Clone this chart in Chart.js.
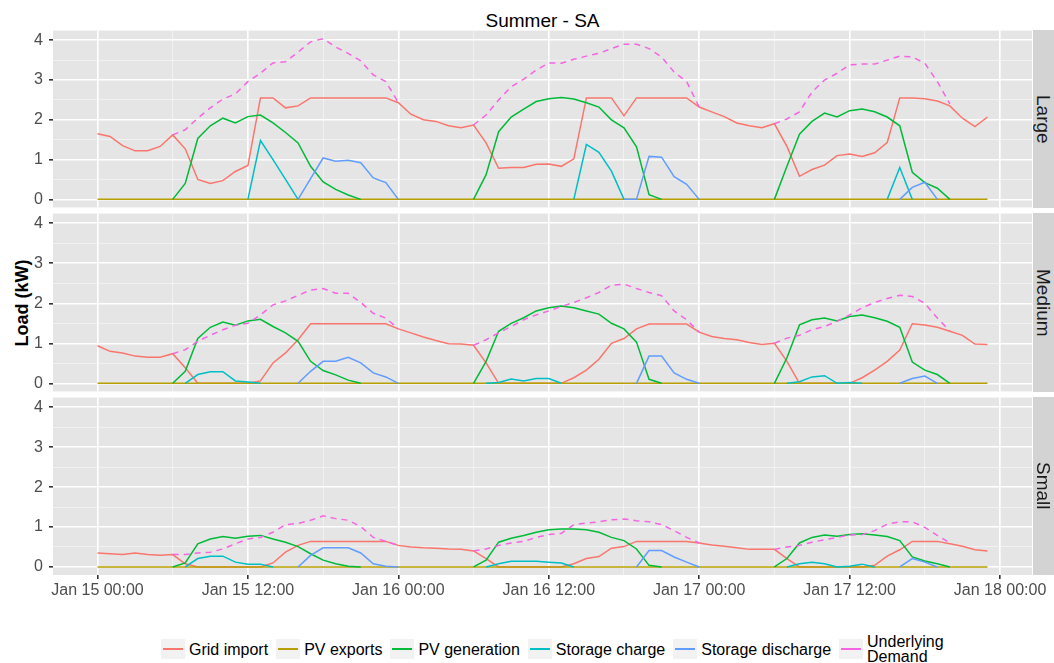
<!DOCTYPE html>
<html>
<head>
<meta charset="utf-8">
<script src="https://cdn.jsdelivr.net/npm/chart.js@4.4.1/dist/chart.umd.min.js"></script>
<style>
  body { margin: 0; background: #fff; font-family: "Liberation Sans", Arial, sans-serif; }
  #wrap { position: relative; width: 1054px; height: 663px; overflow: hidden; background: #fff; }
  canvas { position: absolute; left: 0; }
  .title { position: absolute; left: 53px; width: 979px; top: 11px; text-align: center; font-size: 19px; line-height: 19px; color: #000; }
  .ylab { position: absolute; left: 22px; top: 303px; transform: translate(-50%, -50%) rotate(-90deg); font-weight: bold; font-size: 18px; white-space: nowrap; color: #000; }
  .strip { position: absolute; left: 1033px; width: 21px; background: #d3d3d3; display: flex; align-items: center; justify-content: center; overflow: hidden; }
  .strip span { writing-mode: vertical-rl; font-size: 19px; line-height: 21px; color: #1a1a1a; }
  .legend { position: absolute; top: 634px; left: 161px; display: flex; align-items: center; gap: 8px; font-size: 16px; color: #000; }
  .item { display: flex; align-items: center; gap: 4px; }
  .key { position: relative; width: 24px; height: 20px; background: #f2f2f2; }
  .key i { position: absolute; left: 2px; right: 2px; top: 9px; height: 2px; }
  .lab { white-space: pre-line; line-height: 15px; }
</style>
</head>
<body>
<div id="wrap">
  <div class="title">Summer - SA</div>
  <div class="ylab">Load (kW)</div>
  <canvas id="large"></canvas>
  <canvas id="medium"></canvas>
  <canvas id="small"></canvas>
  <div class="strip" style="top:30px;height:178px"><span>Large</span></div>
  <div class="strip" style="top:213px;height:179px"><span>Medium</span></div>
  <div class="strip" style="top:397px;height:178px"><span>Small</span></div>
  <div class="legend" id="legend"></div>
</div>
<script>
const _ = null;

// hours since Jan 15 00:00
const hours = [0,1,2,3,4,5,6,7,8,9,10,11,12,13,14,15,16,17,18,19,20,21,22,23,
  24,25,26,27,28,29,30,31,32,33,34,35,36,37,38,39,40,41,42,43,44,45,46,47,
  48,49,50,51,52,53,54,55,56,57,58,59,60,61,62,63,64,65,66,67,68,69,70,71];

const xMajor = [0, 12, 24, 36, 48, 60, 72];
const xMinor = [6, 18, 30, 42, 54, 66];
const xLabels = ['Jan 15 00:00', 'Jan 15 12:00', 'Jan 16 00:00', 'Jan 16 12:00', 'Jan 17 00:00', 'Jan 17 12:00', 'Jan 18 00:00'];
const yMajor = [0, 1, 2, 3, 4];
const yMinor = [0.5, 1.5, 2.5, 3.5];

const seriesNames = ['Grid import', 'PV exports', 'PV generation', 'Storage charge', 'Storage discharge', 'Underlying\nDemand'];
const seriesColors = ['#F8766D', '#B79F00', '#00BA38', '#00BFC4', '#619CFF', '#F564E3'];

const pvExports = [0,0,0,0,0,0,0,0,0,0,0,0, 0,0,0,0,0,0,0,0,0,0,0,0, 0,0,0,0,0,0,0,0,0,0,0,0,
  0,0,0,0,0,0,0,0,0,0,0,0, 0,0,0,0,0,0,0,0,0,0,0,0, 0,0,0,0,0,0,0,0,0,0,0,0];

// Large
const largeGrid = [1.65,1.58,1.35,1.22,1.22,1.33,1.62,1.27,0.5,0.4,0.47,0.7,
  0.85,2.55,2.55,2.3,2.35,2.55,2.55,2.55,2.55,2.55,2.55,2.55,
  2.43,2.14,2.0,1.96,1.85,1.8,1.87,1.42,0.78,0.8,0.8,0.88,
  0.89,0.83,1.02,2.55,2.55,2.55,2.1,2.55,2.55,2.55,2.55,2.55,
  2.32,2.2,2.08,1.92,1.85,1.8,1.9,1.33,0.58,0.75,0.86,1.1,
  1.14,1.08,1.17,1.43,2.55,2.55,2.53,2.47,2.35,2.04,1.83,2.07];
const largeGen = [_,_,_,_,_,_,0,0.4,1.53,1.85,2.04,1.92,
  2.08,2.12,1.92,1.68,1.42,0.83,0.44,0.25,0.11,0,_,_,
  _,_,_,_,_,_,0,0.62,1.7,2.07,2.27,2.46,
  2.53,2.56,2.52,2.43,2.32,2.0,1.8,1.32,0.12,0,_,_,
  _,_,_,_,_,_,0,0.83,1.64,1.96,2.17,2.07,
  2.23,2.27,2.2,2.07,1.85,0.68,0.42,0.28,0,_,_,_];
const largeCharge = [_,_,_,_,_,_,_,_,_,_,_,_,
  0,1.48,1.0,0.5,0,_,_,_,_,_,_,_,
  _,_,_,_,_,_,_,_,_,_,_,_,
  _,_,0,1.38,1.18,0.71,0,_,_,_,_,_,
  _,_,_,_,_,_,_,_,_,_,_,_,
  _,_,_,0,0.8,0,_,_,_,_,_,_];
const largeDischarge = [_,_,_,_,_,_,_,_,_,_,_,_,
  _,_,_,_,0,0.52,1.04,0.96,0.98,0.92,0.54,0.42,
  0,_,_,_,_,_,_,_,_,_,_,_,
  _,_,_,_,_,_,0,0,1.08,1.06,0.57,0.38,
  0,_,_,_,_,_,_,_,_,_,_,_,
  _,_,_,_,0,0.3,0.43,0,_,_,_,_];
const largeDemand = [_,_,_,_,_,_,1.62,1.75,2.04,2.3,2.52,2.65,
  2.96,3.17,3.43,3.46,3.7,3.96,4.04,3.83,3.67,3.48,3.13,2.96,
  2.43,_,_,_,_,_,1.87,2.12,2.5,2.83,3.02,3.25,
  3.43,3.42,3.52,3.6,3.67,3.79,3.9,3.9,3.79,3.58,3.2,2.96,
  2.32,_,_,_,_,_,1.9,2.02,2.2,2.7,3.0,3.17,
  3.38,3.4,3.4,3.5,3.6,3.58,3.42,2.96,2.4,_,_,_];

// Medium
const medGrid = [0.94,0.8,0.76,0.68,0.65,0.65,0.74,0.39,0,0,0,0,
  0,0.06,0.51,0.76,1.09,1.49,1.49,1.49,1.49,1.49,1.49,1.49,
  1.36,1.26,1.16,1.07,0.99,0.98,0.95,0.51,0,0,0,0,
  0,0,0.14,0.33,0.6,1.0,1.12,1.36,1.48,1.48,1.48,1.48,
  1.28,1.17,1.12,1.09,1.02,0.97,1.0,0.55,0,0,0,0,
  0,0.14,0.33,0.55,0.83,1.49,1.46,1.4,1.3,1.2,0.98,0.97];
const medGen = [_,_,_,_,_,_,0,0.3,1.12,1.4,1.53,1.45,
  1.56,1.6,1.42,1.26,1.05,0.55,0.32,0.21,0.08,0,_,_,
  _,_,_,_,_,_,0,0.55,1.3,1.5,1.64,1.81,
  1.89,1.93,1.89,1.81,1.73,1.5,1.36,1.03,0.1,0,_,_,
  _,_,_,_,_,_,0,0.64,1.46,1.59,1.63,1.56,
  1.67,1.71,1.64,1.55,1.4,0.53,0.33,0.22,0,_,_,_];
const medCharge = [_,_,_,_,_,_,_,0,0.22,0.29,0.29,0.06,
  0.03,0,_,_,_,_,_,_,_,_,_,_,
  _,_,_,_,_,_,_,0,0.02,0.11,0.06,0.12,
  0.12,0,_,_,_,_,_,_,_,_,_,_,
  _,_,_,_,_,_,_,0,0.04,0.16,0.19,0,
  0.02,0,_,_,_,_,_,_,_,_,_,_];
const medDischarge = [_,_,_,_,_,_,_,_,_,_,_,_,
  _,_,_,_,0,0.3,0.55,0.55,0.65,0.51,0.26,0.16,
  0,_,_,_,_,_,_,_,_,_,_,_,
  _,_,_,_,_,_,_,0,0.68,0.68,0.26,0.1,
  0,_,_,_,_,_,_,_,_,_,_,_,
  _,_,_,_,0,0.12,0.18,0,_,_,_,_];
const medDemand = [_,_,_,_,_,_,0.74,0.84,1.05,1.2,1.34,1.45,
  1.5,1.71,1.96,2.06,2.2,2.33,2.37,2.25,2.25,2.02,1.75,1.63,
  1.36,_,_,_,_,_,0.95,1.09,1.26,1.42,1.59,1.71,
  1.81,1.92,2.02,2.14,2.27,2.45,2.48,2.37,2.27,2.19,1.81,1.59,
  1.28,_,_,_,_,_,1.0,1.13,1.2,1.34,1.42,1.55,
  1.71,1.89,2.02,2.12,2.2,2.17,2.0,1.63,1.31,_,_,_];

// Small
const smallGrid = [0.35,0.33,0.31,0.35,0.31,0.29,0.31,0.08,0,0,0,0,
  0,0,0.1,0.37,0.54,0.64,0.64,0.64,0.64,0.64,0.64,0.64,
  0.54,0.5,0.48,0.47,0.45,0.44,0.4,0.21,0,0,0,0,
  0,0,0.08,0.21,0.26,0.47,0.51,0.64,0.64,0.64,0.64,0.64,
  0.6,0.55,0.52,0.48,0.44,0.44,0.44,0.21,0,0,0,0,
  0,0,0.04,0.27,0.43,0.64,0.64,0.64,0.58,0.52,0.43,0.4];
const smallGen = [_,_,_,_,_,_,0,0.1,0.58,0.7,0.76,0.72,
  0.77,0.79,0.7,0.62,0.51,0.33,0.17,0.08,0.02,0,_,_,
  _,_,_,_,_,_,0,0.17,0.62,0.72,0.79,0.87,
  0.93,0.95,0.95,0.93,0.87,0.74,0.66,0.45,0.04,0,_,_,
  _,_,_,_,_,_,0,0.21,0.6,0.74,0.8,0.77,
  0.81,0.83,0.8,0.76,0.66,0.25,0.15,0.08,0,_,_,_];
const smallCharge = [_,_,_,_,_,_,_,0,0.21,0.27,0.27,0.12,
  0.07,0.07,0,_,_,_,_,_,_,_,_,_,
  _,_,_,_,_,_,_,0,0.08,0.14,0.14,0.14,
  0.12,0.1,0,_,_,_,_,_,_,_,_,_,
  _,_,_,_,_,_,_,0,0.08,0.12,0.08,0,
  0.02,0.07,0,_,_,_,_,_,_,_,_,_];
const smallDischarge = [_,_,_,_,_,_,_,_,_,_,_,_,
  _,_,_,_,0,0.29,0.48,0.48,0.48,0.35,0.08,0.02,
  0,_,_,_,_,_,_,_,_,_,_,_,
  _,_,_,_,_,_,_,0,0.41,0.41,0.25,0.12,
  0,_,_,_,_,_,_,_,_,_,_,_,
  _,_,_,_,0,0.21,0.12,0,_,_,_,_];
const smallDemand = [_,_,_,_,_,_,0.31,0.31,0.35,0.37,0.45,0.58,
  0.7,0.74,0.87,1.06,1.09,1.17,1.28,1.21,1.17,1.01,0.74,0.64,
  0.54,_,_,_,_,_,0.4,0.45,0.54,0.6,0.64,0.74,
  0.81,0.84,1.06,1.1,1.13,1.18,1.2,1.16,1.13,1.06,0.91,0.74,
  0.6,_,_,_,_,_,0.44,0.5,0.54,0.62,0.68,0.74,
  0.8,0.81,0.91,1.07,1.13,1.13,0.99,0.79,0.6,_,_,_];

Chart.defaults.font.family = '"Liberation Sans", Arial, sans-serif';

// grey ggplot-style panel background
const panelBg = {
  id: 'panelBg',
  beforeDraw(chart) {
    const { ctx, chartArea: a } = chart;
    ctx.save();
    ctx.fillStyle = '#e5e5e5';
    ctx.fillRect(a.left, a.top, a.right - a.left, a.bottom - a.top);
    ctx.restore();
  }
};

const isMajorY = v => yMajor.includes(v);
const isMajorX = v => xMajor.includes(v);

function drawPanel(id, top, height, showX, series) {
  const canvas = document.getElementById(id);
  canvas.width = 1054;
  canvas.height = height;
  canvas.style.top = top + 'px';

  new Chart(canvas.getContext('2d'), {
    type: 'line',
    data: {
      labels: hours,
      datasets: seriesNames.map((name, i) => ({
        label: name,
        data: series[i],
        borderColor: seriesColors[i],
        borderWidth: 1.5,
        borderDash: i === 5 ? [6, 5] : [],
        pointRadius: 0,
        tension: 0,
        fill: false,
        spanGaps: false,
        order: 6 - i
      }))
    },
    options: {
      responsive: false,
      animation: false,
      events: [],
      layout: { padding: { top: 15, right: 22, bottom: showX ? 0 : 15, left: 0 } },
      plugins: { legend: { display: false }, tooltip: { enabled: false } },
      scales: {
        x: {
          type: 'linear',
          min: -3.55,
          max: 74.55,
          afterBuildTicks: s => { s.ticks = xMajor.concat(xMinor).sort((a, b) => a - b).map(v => ({ value: v })); },
          afterFit: s => { s.height = showX ? 30 : 0; },
          border: { display: false },
          grid: {
            color: c => isMajorX(c.tick.value) ? '#ffffff' : '#f4f4f4',
            lineWidth: c => isMajorX(c.tick.value) ? 1.6 : 0.8,
            drawTicks: showX,
            tickLength: 4,
            tickColor: c => isMajorX(c.tick.value) ? '#333333' : 'rgba(0,0,0,0)'
          },
          ticks: {
            display: showX,
            autoSkip: false,
            maxRotation: 0,
            padding: 2,
            color: '#4d4d4d',
            font: { size: 16 },
            callback: v => { const i = xMajor.indexOf(v); return i >= 0 ? xLabels[i] : ''; }
          }
        },
        y: {
          min: -0.202,
          max: 4.242,
          afterBuildTicks: s => { s.ticks = yMajor.concat(yMinor).sort((a, b) => a - b).map(v => ({ value: v })); },
          afterFit: s => { s.width = 53; },
          border: { display: false },
          grid: {
            color: c => isMajorY(c.tick.value) ? '#ffffff' : '#f4f4f4',
            lineWidth: c => isMajorY(c.tick.value) ? 1.6 : 0.8,
            tickLength: 4,
            tickColor: c => isMajorY(c.tick.value) ? '#333333' : 'rgba(0,0,0,0)'
          },
          ticks: {
            autoSkip: false,
            padding: 6,
            color: '#4d4d4d',
            font: { size: 16 },
            callback: v => isMajorY(v) ? String(v) : ''
          }
        }
      }
    },
    plugins: [panelBg]
  });
}

drawPanel('large', 15, 208, false, [largeGrid, pvExports, largeGen, largeCharge, largeDischarge, largeDemand]);
drawPanel('medium', 198, 209, false, [medGrid, pvExports, medGen, medCharge, medDischarge, medDemand]);
drawPanel('small', 382, 223, true, [smallGrid, pvExports, smallGen, smallCharge, smallDischarge, smallDemand]);

// legend
const legend = document.getElementById('legend');
seriesNames.forEach((name, i) => {
  const item = document.createElement('div');
  item.className = 'item';
  item.innerHTML = '<span class="key"><i style="background:' + seriesColors[i] + '"></i></span>' +
    '<span class="lab"></span>';
  item.querySelector('.lab').textContent = name;
  legend.appendChild(item);
});
</script>
</body>
</html>
